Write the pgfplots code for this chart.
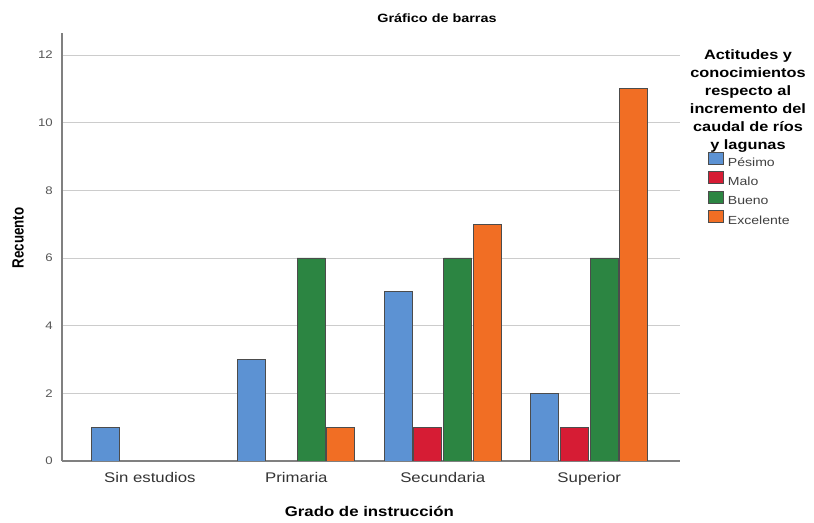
\documentclass[border=0pt]{standalone}
\usepackage{fontspec}
\setmainfont{Liberation Sans}[FakeStretch=1.2]
\newfontfamily\plainfont{Liberation Sans}
\usepackage{pgfplots}
\pgfplotsset{compat=1.18}

\definecolor{cPesimo}{RGB}{92,146,211}
\definecolor{cMalo}{RGB}{214,28,52}
\definecolor{cBueno}{RGB}{44,133,66}
\definecolor{cExcelente}{RGB}{241,110,36}
\definecolor{tickgray}{RGB}{85,85,85}

\begin{document}
\begin{tikzpicture}
% fixed canvas (814 x 523 px at 0.75pt/px)
\path (0pt,0pt) rectangle (610.5pt,392.25pt);

\begin{axis}[
    at={(46.5pt,46.5pt)}, anchor=south west,
    scale only axis,
    width=463.5pt, height=321pt,
    ybar=1.3pt, bar width=21pt,
    xmin=-0.6, xmax=3.62,
    ymin=0, ymax=12.65,
    xtick={0,1,2,3},
    xticklabels={Sin estudios,Primaria,Secundaria,Superior},
    ytick={0,2,...,12},
    axis lines=left,
    axis line style={-, draw=gray, line width=0.8pt},
    major tick length=0pt,
    ymajorgrids,
    grid style={draw=gray!40, line width=0.6pt},
    /pgf/number format/assume math mode=true,
    yticklabel style={font=\fontsize{8.25}{10}\selectfont, text=tickgray, inner sep=0pt, xshift=-6.75pt},
    xticklabel style={font=\fontsize{10.5}{12}\selectfont, text=black!80, inner sep=0pt, yshift=-8.6pt},
    every axis plot/.append style={draw=black!70, line width=0.7pt},
    legend style={
        at={(1.0453,0.7225)}, anchor=north west,
        draw=none, fill=none, inner sep=0pt,
        font=\fontsize{8.8}{10}\selectfont, text=black!75,
        nodes={inner sep=2pt, text height=7.5pt, text depth=1.8pt},
        row sep=0pt,
        /tikz/every odd column/.append style={column sep=1pt},
    },
    legend cell align=left,
    legend image code/.code={\draw[#1] (0pt,-1.5pt) rectangle (11pt,7.5pt);},
]
\addplot[fill=cPesimo] coordinates {(0,1) (1,3) (2,5) (3,2)};
\addplot[fill=cMalo] coordinates {(2,1) (3,1)};
\addplot[fill=cBueno] coordinates {(1,6) (2,6) (3,6)};
\addplot[fill=cExcelente] coordinates {(1,1) (2,7) (3,11)};
\legend{Pésimo,Malo,Bueno,Excelente}
\end{axis}

% title
\node[font=\bfseries\fontsize{9}{11}\selectfont] at (327.75pt,378.75pt) {Gráfico de barras};
% axis labels
\node[font=\bfseries\fontsize{10.5}{12}\selectfont] at (277pt,8.5pt) {Grado de instrucción};
\node[font=\plainfont\bfseries\fontsize{10}{12}\selectfont, rotate=90] at (13.5pt,213.75pt) {\scalebox{1}[1.22]{Recuento}};
% legend title
\node[font=\bfseries\fontsize{10.2}{13.5}\selectfont, align=center, inner sep=0pt] at (561pt,316.5pt)
  {Actitudes y\\conocimientos\\respecto al\\incremento del\\caudal de ríos\\y lagunas};
\end{tikzpicture}
\end{document}
